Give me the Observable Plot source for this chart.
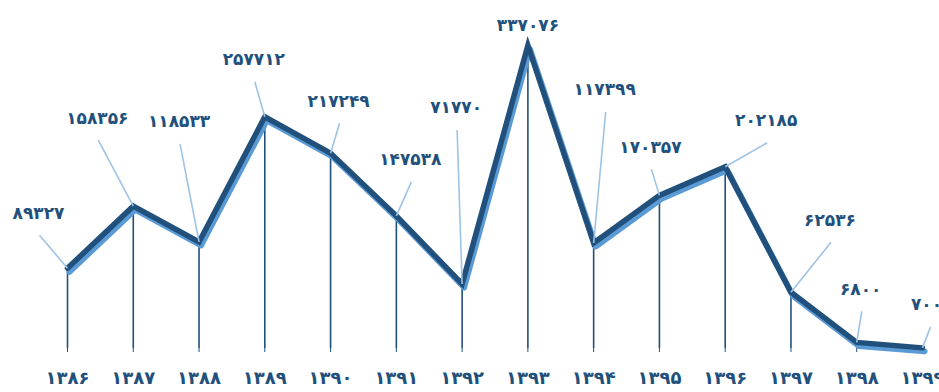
<!DOCTYPE html>
<html>
<head>
<meta charset="utf-8">
<script src="https://cdn.jsdelivr.net/npm/d3@7"></script>
<script src="https://cdn.jsdelivr.net/npm/@observablehq/plot@0.6"></script>
<style>
  html, body { margin: 0; padding: 0; background: #fff; }
  #chart svg { display: block; }
</style>
</head>
<body>
<div id="chart"></div>
<script>
// ---- data ----
const years = [1386, 1387, 1388, 1389, 1390, 1391, 1392, 1393, 1394, 1395, 1396, 1397, 1398, 1399];
const yearLabels = ["۱۳۸۶", "۱۳۸۷", "۱۳۸۸", "۱۳۸۹", "۱۳۹۰", "۱۳۹۱", "۱۳۹۲", "۱۳۹۳", "۱۳۹۴", "۱۳۹۵", "۱۳۹۶", "۱۳۹۷", "۱۳۹۸", "۱۳۹۹"];
const values = [89327, 158356, 118533, 257712, 217249, 147538, 71770, 337076, 117399, 170357, 202185, 62536, 6800, 700];
const valueLabels = ["۸۹۳۲۷", "۱۵۸۳۵۶", "۱۱۸۵۳۳", "۲۵۷۷۱۲", "۲۱۷۲۴۹", "۱۴۷۵۳۸", "۷۱۷۷۰", "۳۳۷۰۷۶", "۱۱۷۳۹۹", "۱۷۰۳۵۷", "۲۰۲۱۸۵", "۶۲۵۳۶", "۶۸۰۰", "۷۰۰"];

// ---- layout (pixel nudges of the data labels from their points) ----
const labelNudge = [[-29,-55],[-36,-88],[-20,-120],[-11,-57],[8,-52],[14,-56],[-6,-176],[0,-20],[11,-153],[-9,-48],[41,-46],[39,-72],[4,-53],[4,-43]];
const hasLeader = [true,true,true,true,true,true,true,false,true,true,true,true,true,true];

const dark = "#22507c";
const light = "#5b9bd5";
const pale = "#9dc3e6";
const font = "DejaVu Sans";

const X = {domain: [1386, 1399], range: [67, 922]};
const Y = {domain: [0, d3.max(values)], range: [348, 45]};
const xs = d3.scaleLinear(X.domain, X.range);
const ys = d3.scaleLinear(Y.domain, Y.range);

const rows = years.map((yr, i) => {
  const px = xs(yr), py = ys(values[i]);
  const [ox, oy] = labelNudge[i];
  return {
    year: yr, value: values[i], label: valueLabels[i], leader: hasLeader[i],
    lx: xs.invert(px + ox), ly: ys.invert(py + oy),
    sx: xs.invert(px + ox + (i === 13 ? 4 : 1)), sy: ys.invert(py + oy + 22)
  };
});

const chart = Plot.plot({
  width: 939,
  height: 392,
  marginLeft: 67,
  marginRight: 17,
  marginTop: 45,
  marginBottom: 44,
  style: {fontFamily: font, fontSize: "18px", fontWeight: "bold", color: dark, background: "#fff"},
  x: {...X, ticks: years, tickFormat: d => yearLabels[years.indexOf(d)], tickSize: 4, tickPadding: 19, label: null},
  y: {...Y, axis: null},
  marks: [
    Plot.ruleX(rows, {x: "year", y1: 0, y2: "value", stroke: dark, strokeWidth: 1.6}),
    Plot.line(rows, {x: "year", y: "value", stroke: light, strokeWidth: 6, dx: 2, dy: 3.5, strokeLinecap: "round", strokeLinejoin: "round"}),
    Plot.line(rows, {x: "year", y: "value", stroke: dark, strokeWidth: 5.5, strokeLinejoin: "miter", strokeMiterlimit: 10}),
    Plot.link(rows.filter(d => d.leader), {x1: "sx", y1: "sy", x2: "year", y2: "value", stroke: pale, strokeWidth: 1.6}),
    Plot.text(rows, {x: "lx", y: "ly", text: "label", fill: dark, fontSize: 17, fontWeight: "bold", fontFamily: font, textAnchor: "middle"})
  ]
});
document.getElementById("chart").appendChild(chart);
</script>
</body>
</html>
